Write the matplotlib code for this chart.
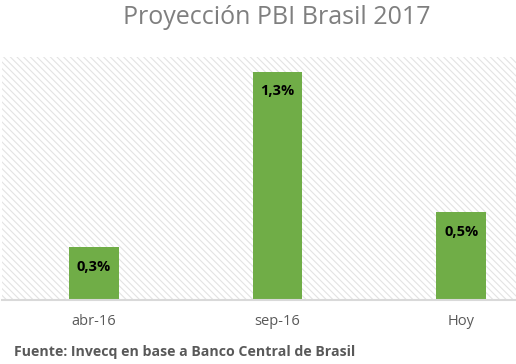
import matplotlib.pyplot as plt
from matplotlib.patches import Rectangle
import numpy as np

fechas = ['abr-16', 'sep-16', 'Hoy']
pbi = [0.3, 1.3, 0.5]
etiquetas = ['0,3%', '1,3%', '0,5%']
titulo = 'Proyección PBI Brasil 2017'
fuente = 'Fuente: Invecq en base a Banco Central de Brasil'

plt.rcParams['font.family'] = ['Open Sans', 'DejaVu Sans']
plt.rcParams['hatch.linewidth'] = 0.8

W, H = 516, 364
fig = plt.figure(figsize=(W / 100, H / 100), dpi=100, facecolor='white')
# el area del grafico se sale un poco por la derecha, como en la imagen original
ax = fig.add_axes([2 / W, 64 / H, 551 / W, 243 / H])

# fondo rayado
ax.add_patch(Rectangle((0, 0), 1, 1, transform=ax.transAxes, facecolor='white',
                       edgecolor='#e3e3e3', hatch='\\\\\\\\\\', lw=0, zorder=0))

x = np.arange(len(fechas))
barras = ax.bar(x, pbi, width=0.27, color='#70ad47', zorder=2)
for b, txt in zip(barras, etiquetas):
    ax.text(b.get_x() + b.get_width() / 2, b.get_height() - 0.11, txt,
            ha='center', va='center', fontsize=10.5, fontweight='bold', color='black', zorder=3)

ax.set_xlim(-0.5, len(fechas) - 0.5)
ax.set_ylim(0, 1.385)
ax.set_xticks(x)
ax.set_xticklabels(fechas, fontsize=10.5, color='#595959')
ax.tick_params(axis='x', length=0, pad=10)
ax.set_yticks([])
for s in ['top', 'left', 'right']:
    ax.spines[s].set_visible(False)
ax.spines['bottom'].set_color('#d9d9d9')
ax.spines['bottom'].set_linewidth(1.5)
ax.spines['bottom'].set_zorder(4)

fig.text(277 / W, 1 - 17 / H, titulo, ha='center', va='center', fontsize=18, color='#7f7f7f')
fig.text(14 / W, 1 - 352 / H, fuente, ha='left', va='center', fontsize=10.2,
         fontweight='bold', color='#595959')

plt.savefig('out.png', dpi=100)
